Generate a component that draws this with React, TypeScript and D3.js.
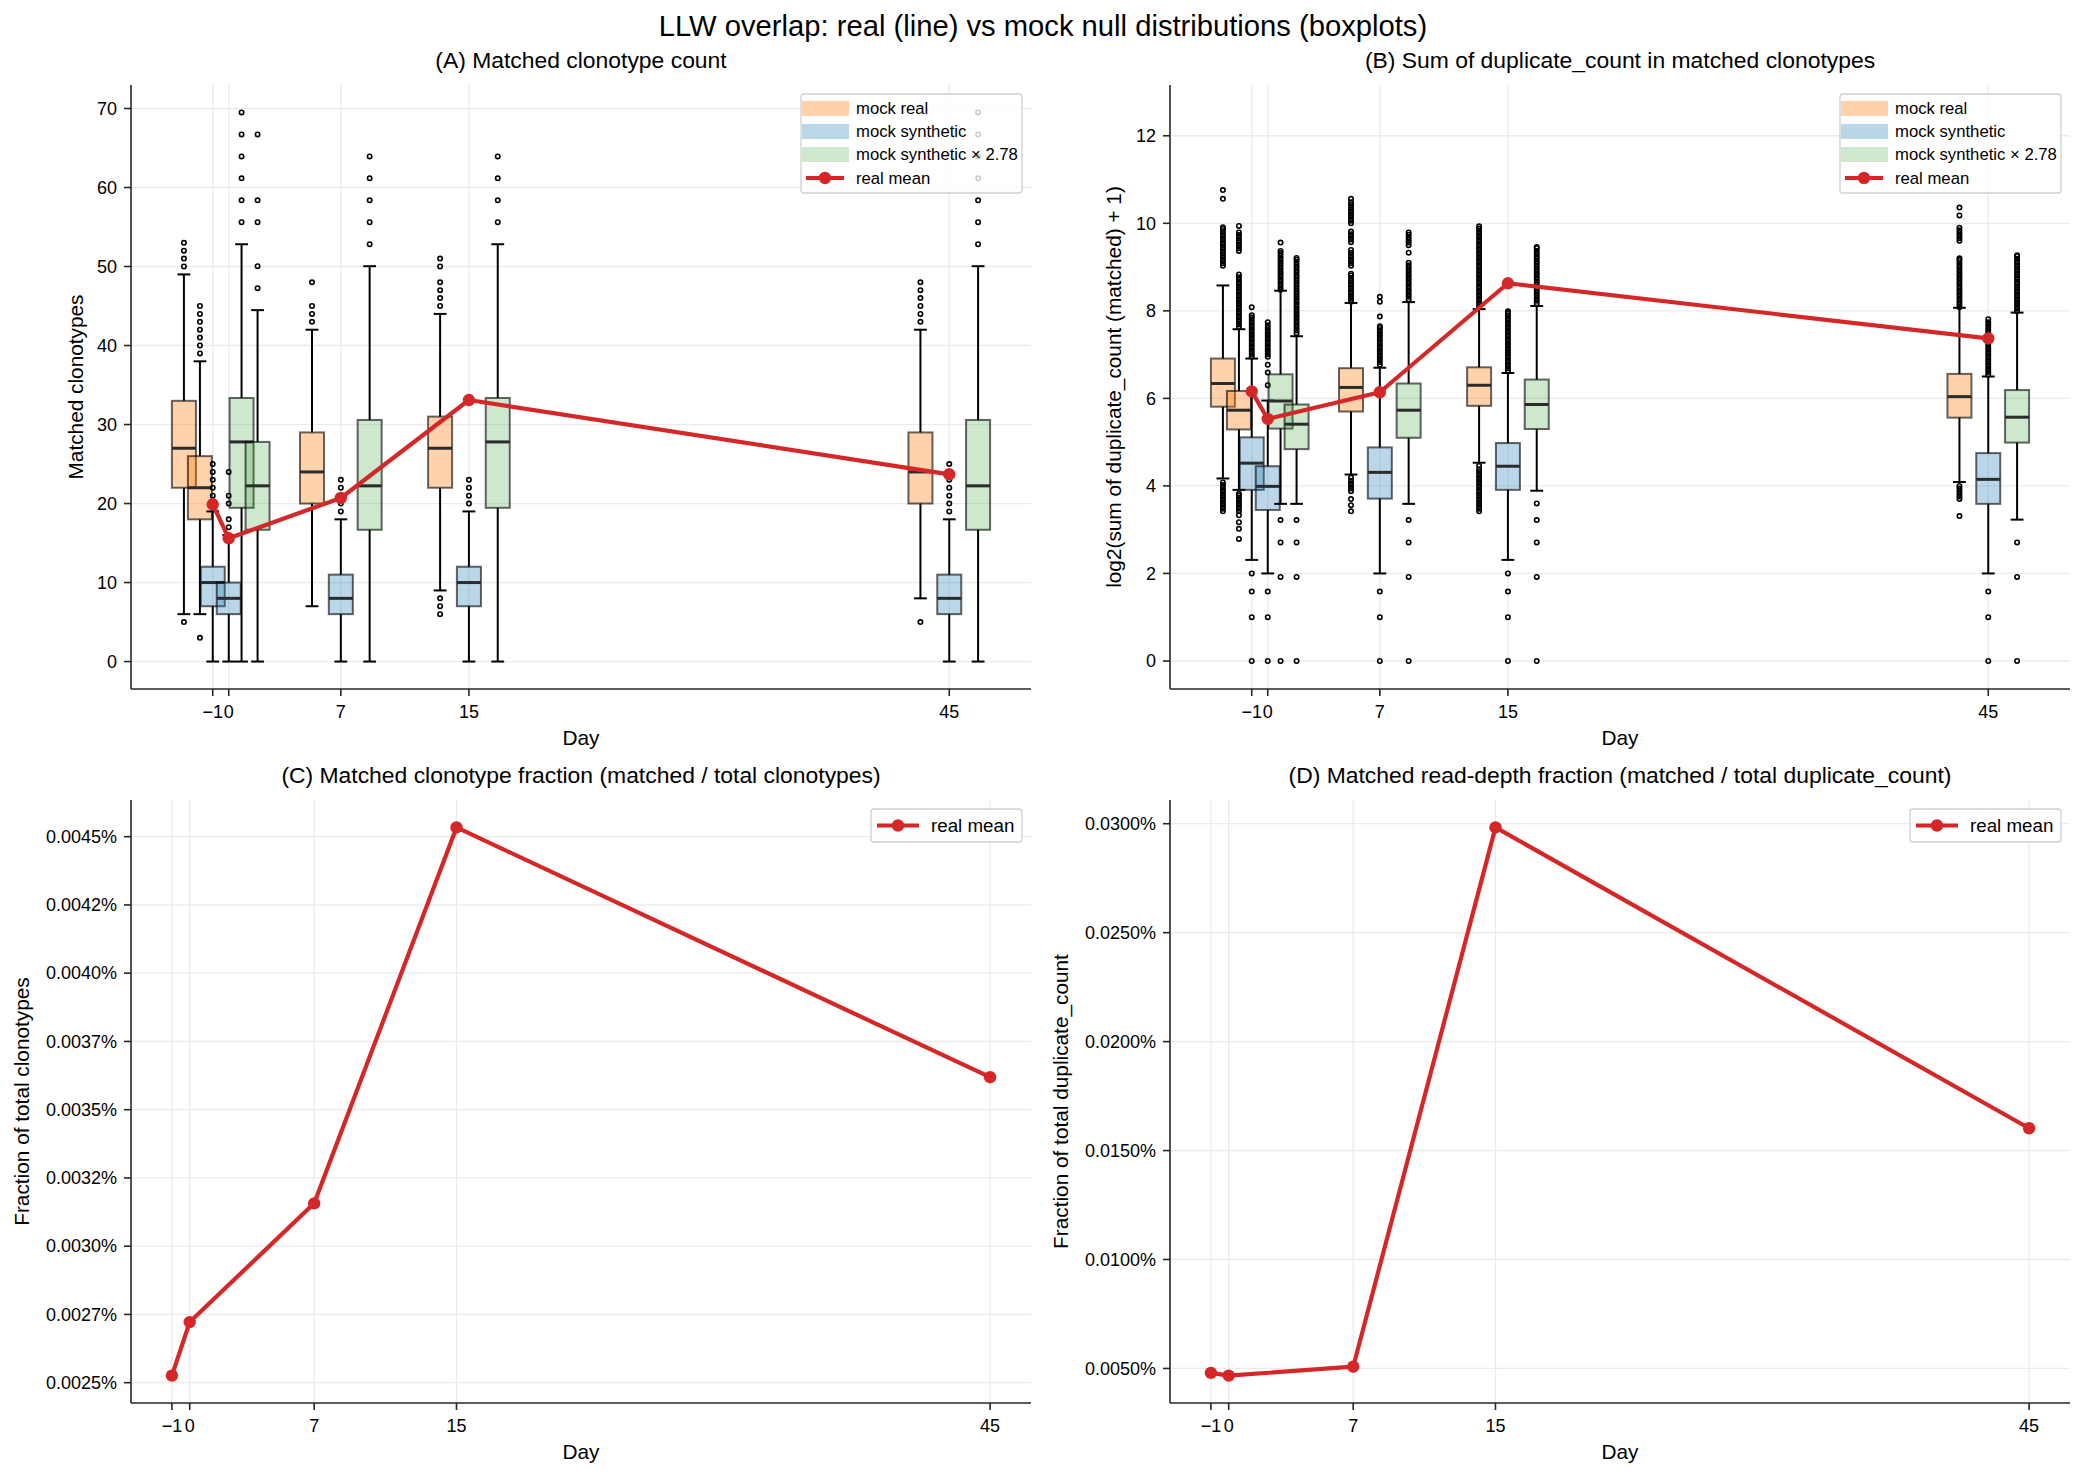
import React from "react";
import * as d3 from "d3";

const FONT = "'Liberation Sans', Arial, Helvetica, sans-serif";
const W = 2085;
const H = 1477;

// ---------------- data ----------------
const days = [-1, 0, 7, 15, 45];
const dayTickLabels = ["\u22121", "0", "7", "15", "45"];

const groupNames = ["mock real", "mock synthetic", "mock synthetic \u00d7 2.78"];
const groupColors = ["#ff7f0e", "#1f77b4", "#2ca02c"];
const groupOpacity = [0.35, 0.3, 0.24];
const groupOffsets = [-1.8, 0, 1.8];

// Panel A: [whiskerLow, q1, median, q3, whiskerHigh]
const countMockRealStats = [[6, 22, 27, 33, 49], [6, 18, 22, 26, 38], [7, 20, 24, 29, 42], [9, 22, 27, 31, 44], [8, 20, 24, 29, 42]];
const countMockRealFliers = [[5, 50, 51, 52, 53], [3, 39, 40, 41, 42, 43, 44, 45], [43, 44, 45, 48], [6, 7, 8, 45, 46, 47, 48, 50, 51], [5, 43, 44, 45, 46, 47, 48]];
const countMockSynthStats = [[0, 7, 10, 12, 19], [0, 6, 8, 10, 16], [0, 6, 8, 11, 18], [0, 7, 10, 12, 19], [0, 6, 8, 11, 18]];
const countMockSynthFliers = [[20, 21, 22, 23, 24, 25], [17, 18, 20, 21, 24], [19, 20, 21, 22, 23], [20, 21, 22, 23], [19, 20, 21, 22, 23, 24, 25]];
const countMockScaledStats = [[0, 19.46, 27.8, 33.36, 52.82], [0, 16.68, 22.24, 27.8, 44.48], [0, 16.68, 22.24, 30.58, 50.04], [0, 19.46, 27.8, 33.36, 52.82], [0, 16.68, 22.24, 30.58, 50.04]];
const countMockScaledFliers = [
  [55.6, 58.38, 61.16, 63.94, 66.72, 69.5],
  [47.26, 50.04, 55.6, 58.38, 66.72],
  [52.82, 55.6, 58.38, 61.16, 63.94],
  [55.6, 58.38, 61.16, 63.94],
  [52.82, 55.6, 58.38, 61.16, 63.94, 66.72, 69.5],
];
const countRealMean = [19.9, 15.6, 20.7, 33.1, 23.7];
const countTicks = [0, 10, 20, 30, 40, 50, 60, 70];
const countDomain = [-3.475, 72.975];

// Panel B (log2 scale values)
const sumMockRealStats = [[4.17, 5.81, 6.34, 6.91, 8.58], [3.91, 5.29, 5.73, 6.17, 7.58], [4.26, 5.7, 6.25, 6.69, 8.18], [4.53, 5.83, 6.3, 6.71, 8.04], [4.09, 5.56, 6.04, 6.56, 8.07]];
const sumMockRealFliers = [
  [3.42, 3.48, 3.54, 3.6, 3.66, 3.72, 3.78, 3.84, 3.9, 3.96, 4.02, 4.08, 9.03, 9.09, 9.15, 9.21, 9.27, 9.33, 9.39, 9.45, 9.51, 9.57, 9.63, 9.69, 9.75, 9.81, 9.87, 9.91, 10.56, 10.76],
  [2.79, 3.02, 3.17, 3.33, 3.42, 3.48, 3.54, 3.6, 3.66, 3.72, 3.78, 3.82, 7.63, 7.69, 7.75, 7.81, 7.87, 7.93, 7.99, 8.05, 8.11, 8.17, 8.23, 8.29, 8.35, 8.41, 8.47, 8.53, 8.59, 8.65, 8.71, 8.77, 8.83, 9.37, 9.43, 9.49, 9.55, 9.61, 9.67, 9.73, 9.79, 9.94],
  [3.42, 3.56, 3.7, 3.88, 3.94, 4.0, 4.06, 4.12, 4.19, 8.21, 8.27, 8.33, 8.39, 8.45, 8.51, 8.57, 8.63, 8.69, 8.75, 8.81, 8.85, 9.03, 9.09, 9.15, 9.21, 9.27, 9.33, 9.39, 9.57, 9.63, 9.69, 9.75, 9.81, 10.0, 10.06, 10.12, 10.18, 10.24, 10.3, 10.36, 10.42, 10.48, 10.56],
  [3.42, 3.48, 3.54, 3.6, 3.66, 3.72, 3.78, 3.84, 3.9, 3.96, 4.02, 4.08, 4.14, 4.2, 4.26, 4.32, 4.38, 4.46, 8.08, 8.14, 8.2, 8.26, 8.32, 8.38, 8.44, 8.5, 8.56, 8.62, 8.68, 8.74, 8.8, 8.86, 8.92, 8.98, 9.04, 9.1, 9.16, 9.22, 9.28, 9.34, 9.4, 9.46, 9.52, 9.58, 9.64, 9.7, 9.76, 9.82, 9.88, 9.93],
  [3.31, 3.7, 3.76, 3.82, 3.88, 3.94, 4.0, 8.08, 8.14, 8.2, 8.26, 8.32, 8.38, 8.44, 8.5, 8.56, 8.62, 8.68, 8.74, 8.8, 8.86, 8.92, 8.98, 9.04, 9.1, 9.16, 9.2, 9.6, 9.66, 9.72, 9.78, 9.84, 9.9, 10.18, 10.36],
];
const sumMockSynthStats = [[2.31, 3.91, 4.52, 5.11, 6.91], [2.0, 3.45, 3.99, 4.45, 5.95], [2.0, 3.71, 4.31, 4.88, 6.7], [2.31, 3.91, 4.45, 4.98, 6.58], [2.0, 3.59, 4.15, 4.75, 6.5]];
const sumMockSynthFliers = [
  [0, 1, 1.585, 2, 6.95, 7.01, 7.07, 7.13, 7.19, 7.25, 7.31, 7.37, 7.43, 7.49, 7.55, 7.61, 7.67, 7.73, 7.79, 7.85, 7.9, 8.08],
  [0, 1, 1.585, 6.3, 6.59, 6.77, 6.95, 7.01, 7.07, 7.13, 7.19, 7.25, 7.31, 7.37, 7.43, 7.49, 7.55, 7.61, 7.67, 7.74],
  [0, 1, 1.585, 6.77, 6.83, 6.89, 6.95, 7.01, 7.07, 7.13, 7.19, 7.25, 7.31, 7.37, 7.43, 7.49, 7.55, 7.61, 7.65, 7.87, 8.21, 8.32],
  [0, 1, 1.585, 2, 6.63, 6.69, 6.75, 6.81, 6.87, 6.93, 6.99, 7.05, 7.11, 7.17, 7.23, 7.29, 7.35, 7.41, 7.47, 7.53, 7.59, 7.65, 7.71, 7.77, 7.83, 7.89, 7.95, 7.99],
  [0, 1, 1.585, 6.54, 6.6, 6.66, 6.72, 6.78, 6.84, 6.9, 6.96, 7.02, 7.08, 7.14, 7.2, 7.26, 7.32, 7.38, 7.44, 7.5, 7.56, 7.62, 7.68, 7.74, 7.81],
];
const sumMockScaledStats = [[3.59, 5.31, 5.94, 6.55, 8.46], [3.59, 4.84, 5.41, 5.86, 7.42], [3.59, 5.1, 5.73, 6.34, 8.2], [3.89, 5.3, 5.86, 6.43, 8.11], [3.23, 4.99, 5.57, 6.19, 7.96]];
const sumMockScaledFliers = [
  [0, 1.92, 2.71, 3.22, 8.48, 8.54, 8.6, 8.66, 8.72, 8.78, 8.84, 8.9, 8.96, 9.02, 9.08, 9.14, 9.2, 9.26, 9.32, 9.37, 9.56],
  [0, 1.92, 2.71, 3.22, 7.49, 7.55, 7.61, 7.67, 7.73, 7.79, 7.85, 7.91, 7.97, 8.03, 8.09, 8.15, 8.21, 8.27, 8.33, 8.39, 8.45, 8.51, 8.57, 8.63, 8.69, 8.75, 8.81, 8.87, 8.93, 8.99, 9.05, 9.11, 9.17, 9.21],
  [0, 1.92, 2.71, 3.22, 8.26, 8.32, 8.38, 8.44, 8.5, 8.56, 8.62, 8.68, 8.74, 8.8, 8.86, 8.92, 8.98, 9.04, 9.1, 9.33, 9.5, 9.56, 9.62, 9.68, 9.74, 9.79],
  [0, 1.92, 2.71, 3.22, 3.6, 8.17, 8.23, 8.29, 8.35, 8.41, 8.47, 8.53, 8.59, 8.65, 8.71, 8.77, 8.83, 8.89, 8.95, 9.01, 9.07, 9.13, 9.19, 9.25, 9.31, 9.37, 9.43, 9.46],
  [0, 1.92, 2.71, 7.99, 8.05, 8.11, 8.17, 8.23, 8.29, 8.35, 8.41, 8.47, 8.53, 8.59, 8.65, 8.71, 8.77, 8.83, 8.89, 8.95, 9.01, 9.07, 9.13, 9.19, 9.25, 9.27],
];
const sumRealMean = [6.16, 5.53, 6.14, 8.63, 7.37];
const sumTicks = [0, 2, 4, 6, 8, 10, 12];
const sumDomain = [-0.64, 13.16];

// Panel C (percent)
const clonoFractionPct = [0.002526, 0.002722, 0.003157, 0.004534, 0.003619];
const clonoTicks = [0.0025, 0.00275, 0.003, 0.00325, 0.0035, 0.00375, 0.004, 0.00425, 0.0045];
const clonoTickLabels = ["0.0025%", "0.0027%", "0.0030%", "0.0032%", "0.0035%", "0.0037%", "0.0040%", "0.0042%", "0.0045%"];

// Panel D (percent)
const depthFractionPct = [0.004796, 0.004673, 0.005082, 0.02983, 0.016024];
const depthTicks = [0.005, 0.01, 0.015, 0.02, 0.025, 0.03];
const depthTickLabels = ["0.0050%", "0.0100%", "0.0150%", "0.0200%", "0.0250%", "0.0300%"];

// ---------------- layout ----------------
const RED = "#d62728";
const TICK_FS = 18;
const LABEL_FS = 20.8;
const TITLE_FS = 22.9;
const boxWidthDays = 1.5;
const capWidthDays = 0.8;

type Frame = { left: number; right: number; top: number; bottom: number };

function padDomain(vals: number[]): [number, number] {
  const lo = d3.min(vals) as number;
  const hi = d3.max(vals) as number;
  const m = (hi - lo) * 0.05;
  return [lo - m, hi + m];
}

function Axes({ f, x, y, yTicks, title, ylabel, ylabelX }: any) {
  return (
    <g>
      {days.map((d) => (
        <line key={"gx" + d} x1={x(d)} x2={x(d)} y1={f.top} y2={f.bottom} stroke="#ebebeb" strokeWidth={1.3} />
      ))}
      {yTicks.map((t: number) => (
        <line key={"gy" + t} x1={f.left} x2={f.right} y1={y(t)} y2={y(t)} stroke="#ebebeb" strokeWidth={1.3} />
      ))}
      <text x={(f.left + f.right) / 2} y={f.top - 17} textAnchor="middle" fontSize={TITLE_FS} fontFamily={FONT} fill="#000">
        {title}
      </text>
      <text
        transform={`translate(${ylabelX},${(f.top + f.bottom) / 2}) rotate(-90)`}
        textAnchor="middle"
        fontSize={LABEL_FS}
        fontFamily={FONT}
        fill="#000"
      >
        {ylabel}
      </text>
      <text x={(f.left + f.right) / 2} y={f.bottom + 56} textAnchor="middle" fontSize={LABEL_FS} fontFamily={FONT} fill="#000">
        Day
      </text>
    </g>
  );
}

function AxisLines({ f, x, y, yTicks, yTickLabels }: any) {
  return (
    <g>
      <line x1={f.left} x2={f.left} y1={f.top} y2={f.bottom} stroke="#262626" strokeWidth={1.6} />
      <line x1={f.left} x2={f.right} y1={f.bottom} y2={f.bottom} stroke="#262626" strokeWidth={1.6} />
      {days.map((d, i) => (
        <g key={"xt" + d}>
          <line x1={x(d)} x2={x(d)} y1={f.bottom} y2={f.bottom + 7} stroke="#262626" strokeWidth={1.6} />
          <text x={x(d)} y={f.bottom + 29} textAnchor="middle" fontSize={TICK_FS} fontFamily={FONT} fill="#000">
            {dayTickLabels[i]}
          </text>
        </g>
      ))}
      {yTicks.map((t: number, i: number) => (
        <g key={"yt" + t}>
          <line x1={f.left - 7} x2={f.left} y1={y(t)} y2={y(t)} stroke="#262626" strokeWidth={1.6} />
          <text x={f.left - 14} y={y(t) + 6.3} textAnchor="end" fontSize={TICK_FS} fontFamily={FONT} fill="#000">
            {yTickLabels[i]}
          </text>
        </g>
      ))}
    </g>
  );
}

function Boxes({ x, y, groups }: any) {
  return (
    <g>
      {groups.map((g: any, gi: number) =>
        days.map((d, di) => {
          const [lo, q1, med, q3, hi] = g.stats[di];
          const c = d + groupOffsets[gi];
          const cx = x(c);
          const x0 = x(c - boxWidthDays / 2);
          const x1 = x(c + boxWidthDays / 2);
          const k0 = x(c - capWidthDays / 2);
          const k1 = x(c + capWidthDays / 2);
          return (
            <g key={gi + "-" + di}>
              <line x1={cx} x2={cx} y1={y(q1)} y2={y(lo)} stroke="#000" strokeWidth={2} />
              <line x1={cx} x2={cx} y1={y(q3)} y2={y(hi)} stroke="#000" strokeWidth={2} />
              <line x1={k0} x2={k1} y1={y(lo)} y2={y(lo)} stroke="#000" strokeWidth={2} />
              <line x1={k0} x2={k1} y1={y(hi)} y2={y(hi)} stroke="#000" strokeWidth={2} />
              <rect
                x={x0}
                y={y(q3)}
                width={x1 - x0}
                height={y(q1) - y(q3)}
                fill={groupColors[gi]}
                fillOpacity={groupOpacity[gi]}
                stroke="#000"
                strokeOpacity={0.6}
                strokeWidth={2}
              />
              <line x1={x0} x2={x1} y1={y(med)} y2={y(med)} stroke="#2b2b2b" strokeWidth={3} />
              {g.fliers[di].map((v: number, fi: number) => (
                <circle key={fi} cx={cx} cy={y(v)} r={2.2} fill="none" stroke="#000" strokeWidth={1.6} />
              ))}
            </g>
          );
        })
      )}
    </g>
  );
}

function MeanLine({ x, y, values }: any) {
  const line = d3
    .line<number>()
    .x((_, i) => x(days[i]))
    .y((v) => y(v));
  return (
    <g>
      <path d={line(values) || ""} fill="none" stroke={RED} strokeWidth={4.2} strokeLinejoin="round" />
      {values.map((v: number, i: number) => (
        <circle key={i} cx={x(days[i])} cy={y(v)} r={6.2} fill={RED} />
      ))}
    </g>
  );
}

function BoxLegend({ f }: any) {
  const left = f.right - 230;
  const top = f.top + 9;
  const rows = [14.5, 37.5, 60.5, 84];
  return (
    <g fontFamily={FONT}>
      <rect x={left} y={top} width={221} height={99} rx={3} fill="#fff" fillOpacity={0.8} stroke="#d0d0d0" strokeWidth={1.3} />
      {groupNames.map((n, i) => (
        <g key={n}>
          <rect x={left + 1} y={top + rows[i] - 7.5} width={47} height={15} fill={groupColors[i]} fillOpacity={groupOpacity[i]} />
          <text x={left + 55} y={top + rows[i] + 5.8} fontSize={16.7} fill="#000">
            {n}
          </text>
        </g>
      ))}
      <line x1={left + 5} x2={left + 43} y1={top + rows[3]} y2={top + rows[3]} stroke={RED} strokeWidth={4.2} />
      <circle cx={left + 24} cy={top + rows[3]} r={6.2} fill={RED} />
      <text x={left + 55} y={top + rows[3] + 5.8} fontSize={16.7} fill="#000">
        real mean
      </text>
    </g>
  );
}

function LineLegend({ f }: any) {
  const left = f.right - 160;
  const top = f.top + 9;
  const cy = top + 16.5;
  return (
    <g fontFamily={FONT}>
      <rect x={left} y={top} width={151} height={33} rx={3} fill="#fff" fillOpacity={0.8} stroke="#d0d0d0" strokeWidth={1.3} />
      <line x1={left + 6} x2={left + 48} y1={cy} y2={cy} stroke={RED} strokeWidth={4.2} />
      <circle cx={left + 27} cy={cy} r={6.2} fill={RED} />
      <text x={left + 60} y={cy + 6.5} fontSize={18.75} fill="#000">
        real mean
      </text>
    </g>
  );
}

export default function App() {
  const fA: Frame = { left: 131, right: 1031, top: 85, bottom: 689 };
  const fB: Frame = { left: 1170, right: 2070, top: 85, bottom: 689 };
  const fC: Frame = { left: 131, right: 1031, top: 800, bottom: 1403 };
  const fD: Frame = { left: 1170, right: 2070, top: 800, bottom: 1403 };

  const boxXDomain = padDomain([days[0] - 1.8 - boxWidthDays / 2, days[days.length - 1] + 1.8 + boxWidthDays / 2]);
  const lineXDomain = padDomain(days);

  const xA = d3.scaleLinear().domain(boxXDomain).range([fA.left, fA.right]);
  const yA = d3.scaleLinear().domain(countDomain).range([fA.bottom, fA.top]);
  const xB = d3.scaleLinear().domain(boxXDomain).range([fB.left, fB.right]);
  const yB = d3.scaleLinear().domain(sumDomain).range([fB.bottom, fB.top]);
  const xC = d3.scaleLinear().domain(lineXDomain).range([fC.left, fC.right]);
  const yC = d3.scaleLinear().domain(padDomain(clonoFractionPct)).range([fC.bottom, fC.top]);
  const xD = d3.scaleLinear().domain(lineXDomain).range([fD.left, fD.right]);
  const yD = d3.scaleLinear().domain(padDomain(depthFractionPct)).range([fD.bottom, fD.top]);

  const groupsA = [
    { stats: countMockRealStats, fliers: countMockRealFliers },
    { stats: countMockSynthStats, fliers: countMockSynthFliers },
    { stats: countMockScaledStats, fliers: countMockScaledFliers },
  ];
  const groupsB = [
    { stats: sumMockRealStats, fliers: sumMockRealFliers },
    { stats: sumMockSynthStats, fliers: sumMockSynthFliers },
    { stats: sumMockScaledStats, fliers: sumMockScaledFliers },
  ];

  return (
    <svg width={W} height={H} style={{ position: "absolute", left: 0, top: 0, background: "#fff" }}>
      <rect x={0} y={0} width={W} height={H} fill="#fff" />
      <text x={1043} y={36} textAnchor="middle" fontSize={29.2} fontFamily={FONT} fill="#000">
        LLW overlap: real (line) vs mock null distributions (boxplots)
      </text>

      {/* Panel A */}
      <Axes f={fA} x={xA} y={yA} yTicks={countTicks} title="(A) Matched clonotype count" ylabel="Matched clonotypes" ylabelX={83} />
      <Boxes x={xA} y={yA} groups={groupsA} />
      <MeanLine x={xA} y={yA} values={countRealMean} />
      <AxisLines f={fA} x={xA} y={yA} yTicks={countTicks} yTickLabels={countTicks.map(String)} />
      <BoxLegend f={fA} />

      {/* Panel B */}
      <Axes f={fB} x={xB} y={yB} yTicks={sumTicks} title="(B) Sum of duplicate_count in matched clonotypes" ylabel="log2(sum of duplicate_count (matched) + 1)" ylabelX={1121} />
      <Boxes x={xB} y={yB} groups={groupsB} />
      <MeanLine x={xB} y={yB} values={sumRealMean} />
      <AxisLines f={fB} x={xB} y={yB} yTicks={sumTicks} yTickLabels={sumTicks.map(String)} />
      <BoxLegend f={fB} />

      {/* Panel C */}
      <Axes f={fC} x={xC} y={yC} yTicks={clonoTicks} title="(C) Matched clonotype fraction (matched / total clonotypes)" ylabel="Fraction of total clonotypes" ylabelX={29} />
      <MeanLine x={xC} y={yC} values={clonoFractionPct} />
      <AxisLines f={fC} x={xC} y={yC} yTicks={clonoTicks} yTickLabels={clonoTickLabels} />
      <LineLegend f={fC} />

      {/* Panel D */}
      <Axes f={fD} x={xD} y={yD} yTicks={depthTicks} title="(D) Matched read-depth fraction (matched / total duplicate_count)" ylabel="Fraction of total duplicate_count" ylabelX={1068} />
      <MeanLine x={xD} y={yD} values={depthFractionPct} />
      <AxisLines f={fD} x={xD} y={yD} yTicks={depthTicks} yTickLabels={depthTickLabels} />
      <LineLegend f={fD} />
    </svg>
  );
}
